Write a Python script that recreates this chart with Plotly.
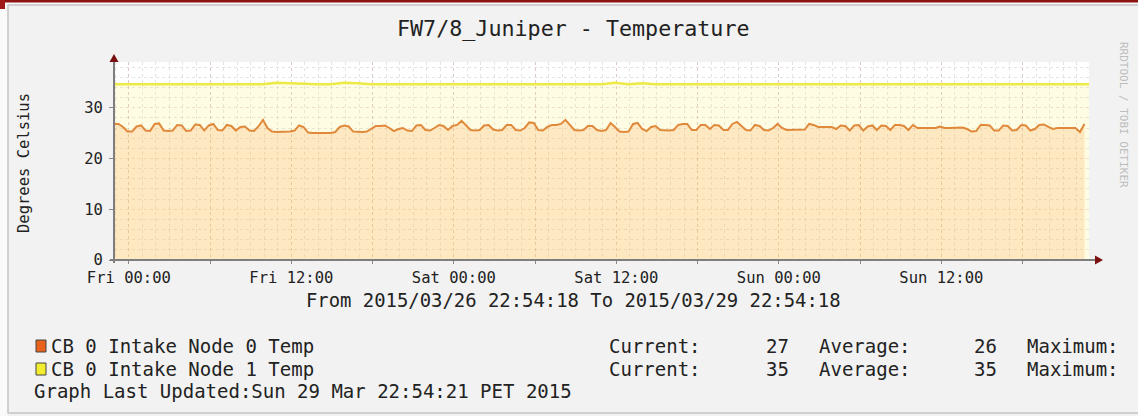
import datetime
import plotly.graph_objects as go

title = "FW7/8_Juniper - Temperature"
start = datetime.datetime(2015, 3, 26, 22, 54, 18)
end = datetime.datetime(2015, 3, 29, 22, 54, 18)
last_update = "Graph Last Updated:Sun 29 Mar 22:54:21 PET 2015"

# CB 0 Intake Node 0 Temp, one sample every 20 minutes
node0_temp = [
    26.8, 26.8, 26.2, 25.3, 25.3, 26.3, 26.5, 25.5, 25.4, 26.8,
    26.9, 25.5, 25.4, 25.5, 26.6, 26.5, 25.4, 25.5, 26.7, 26.6,
    25.5, 26.5, 26.8, 25.6, 25.5, 26.6, 26.4, 25.5, 26.2, 26.3,
    25.5, 25.4, 26.3, 27.6, 26.0, 25.3, 25.2, 25.2, 25.2, 25.3,
    25.5, 26.5, 26.2, 25.1, 25.0, 25.0, 25.0, 25.0, 25.0, 25.2,
    26.2, 26.5, 26.3, 25.3, 25.2, 25.2, 25.3, 25.8, 26.4, 26.4,
    26.5, 26.0, 25.4, 25.8, 26.0, 25.5, 25.4, 26.5, 26.6, 25.6,
    25.5, 26.0, 26.6, 26.4, 25.6, 26.4, 26.6, 27.4, 26.5, 25.6,
    25.5, 25.6, 26.5, 26.6, 25.7, 25.5, 25.6, 26.6, 26.6, 25.6,
    25.5, 26.0, 27.1, 27.0, 25.6, 25.5, 26.2, 26.6, 26.6, 26.8,
    27.6, 26.6, 25.6, 25.5, 25.6, 26.4, 26.4, 25.6, 25.4, 25.6,
    27.0, 26.2, 25.3, 25.2, 25.3, 26.8, 27.0, 25.8, 25.4, 26.2,
    26.4, 25.6, 25.5, 25.5, 25.6, 26.6, 26.8, 26.8, 25.6, 25.6,
    26.6, 26.6, 25.8, 26.6, 26.5, 25.6, 25.6, 26.8, 27.2, 26.4,
    25.6, 25.5, 26.6, 26.4, 25.6, 25.5, 26.0, 26.8, 26.0, 25.6,
    25.6, 25.6, 25.6, 25.7, 26.8, 26.6, 26.2, 26.2, 26.1, 26.2,
    25.8, 26.5, 26.4, 25.5, 26.5, 26.6, 25.5, 26.3, 26.5, 25.6,
    26.5, 26.4, 25.6, 26.6, 26.6, 26.4, 25.6, 26.6, 26.0, 26.0,
    26.0, 26.0, 26.0, 26.3, 26.0, 26.0, 26.0, 26.0, 26.1, 25.8,
    25.3, 25.4, 26.6, 26.6, 26.5, 25.5, 25.5, 26.5, 26.4, 25.5,
    25.6, 26.6, 26.5, 25.5, 25.8, 26.6, 26.7, 26.2, 25.8, 26.0,
    26.0, 26.0, 26.0, 26.0, 25.2, 26.8,
]
# CB 0 Intake Node 1 Temp, one sample per hour
node1_temp = [
    34.6, 34.6, 34.6, 34.6, 34.6, 34.6, 34.6, 34.6, 34.6, 34.6,
    34.6, 34.6, 34.9, 34.8, 34.6, 34.6, 34.6, 34.9, 34.8, 34.6,
    34.6, 34.6, 34.6, 34.6, 34.6, 34.6, 34.7, 34.6, 34.6, 34.6,
    34.6, 34.6, 34.6, 34.6, 34.6, 34.6, 34.6, 34.9, 34.6, 34.8,
    34.6, 34.6, 34.6, 34.6, 34.6, 34.6, 34.6, 34.6, 34.6, 34.6,
    34.6, 34.6, 34.6, 34.6, 34.6, 34.6, 34.6, 34.6, 34.6, 34.6,
    34.6, 34.6, 34.6, 34.6, 34.6, 34.6, 34.6, 34.6, 34.6, 34.6,
    34.6, 34.6, 34.6,
]
node0_times = [start + datetime.timedelta(minutes=20 * i) for i in range(len(node0_temp))]
node1_times = [start + datetime.timedelta(hours=i) for i in range(len(node1_temp))]

series_names = ["CB 0 Intake Node 0 Temp", "CB 0 Intake Node 1 Temp"]
current = [27, 35]
average = [26, 35]
swatch_colors = ["#E8621E", "#F2EE2E"]

tick_times = [datetime.datetime(2015, 3, 27) + datetime.timedelta(hours=6 * k) for k in range(12)]
tick_labels = ["Fri 00:00", "", "Fri 12:00", "", "Sat 00:00", "", "Sat 12:00", "",
               "Sun 00:00", "", "Sun 12:00", ""]

MONO = "DejaVu Sans Mono"
W, H = 1138, 416
L, R, T, B = 114, 49, 62, 156
PW, PH = W - L - R, H - T - B
LEG = 19.0


# pixel -> paper helpers for the rrdtool style decorations
def xp(px):
    return (px - L) / PW


def yp(py):
    return (H - B - py) / PH


fig = go.Figure()
fig.add_trace(go.Scatter(
    x=node1_times, y=node1_temp, mode="lines",
    line=dict(color="#EDEA45", width=2.5),
    fill="tozeroy", fillcolor="rgba(255,240,120,0.2)",
    hoverinfo="skip",
))
fig.add_trace(go.Scatter(
    x=node0_times, y=node0_temp, mode="lines",
    line=dict(color="#E0893A", width=2),
    fill="tozeroy", fillcolor="rgba(250,170,90,0.25)",
    hoverinfo="skip",
))

ann = []
ann.append(dict(x=xp(573), y=yp(28), text=title, font=dict(size=21.7)))
ann.append(dict(x=xp(24), y=yp(163), text="Degrees Celsius", textangle=-90,
                font=dict(size=15.5)))
ann.append(dict(x=xp(573), y=yp(300), text="From %s To %s" % (
    start.strftime("%Y/%m/%d %H:%M:%S"), end.strftime("%Y/%m/%d %H:%M:%S")),
    font=dict(size=18.9)))
ann.append(dict(x=xp(1124), y=yp(115), text="RRDTOOL / TOBI OETIKER", textangle=90,
                font=dict(size=11, color="#BDBDBD")))

shapes = []
rows_y = [346, 369]
for k in range(2):
    ry = rows_y[k]
    shapes.append(dict(type="rect", xref="paper", yref="paper",
                       x0=xp(36), x1=xp(46), y0=yp(ry - 6), y1=yp(ry + 6),
                       fillcolor=swatch_colors[k], line=dict(color="#444", width=1)))
    ann.append(dict(x=xp(49), y=yp(ry), text=series_names[k], xanchor="left", font=dict(size=LEG)))
    ann.append(dict(x=xp(607), y=yp(ry), text="Current:", xanchor="left", font=dict(size=LEG)))
    ann.append(dict(x=xp(791), y=yp(ry), text=str(current[k]), xanchor="right", font=dict(size=LEG)))
    ann.append(dict(x=xp(817), y=yp(ry), text="Average:", xanchor="left", font=dict(size=LEG)))
    ann.append(dict(x=xp(999), y=yp(ry), text=str(average[k]), xanchor="right", font=dict(size=LEG)))
    ann.append(dict(x=xp(1025), y=yp(ry), text="Maximum:", xanchor="left", font=dict(size=LEG)))
ann.append(dict(x=xp(32), y=yp(391), text=last_update, xanchor="left", font=dict(size=LEG)))

for a in ann:
    a.setdefault("xanchor", "center")
    a.update(xref="paper", yref="paper", showarrow=False, yanchor="middle")
    a["font"].setdefault("color", "#222")

# frame, page strip and axis arrows
shapes += [
    dict(type="rect", xref="paper", yref="paper", x0=xp(0), x1=xp(8), y0=yp(0), y1=yp(416),
         fillcolor="#FAFAFA", line=dict(width=0)),
    dict(type="rect", xref="paper", yref="paper", x0=xp(0), x1=xp(1138), y0=yp(0), y1=yp(5),
         fillcolor="#FAFAFA", line=dict(width=0)),
    dict(type="rect", xref="paper", yref="paper", x0=xp(8), x1=xp(1145), y0=yp(5), y1=yp(413),
         line=dict(color="#C4C4C4", width=1.5)),
    dict(type="rect", xref="paper", yref="paper", x0=xp(0), x1=xp(1138), y0=yp(0), y1=yp(2.5),
         fillcolor="#8E1414", line=dict(width=0)),
    dict(type="rect", xref="paper", yref="paper", x0=xp(0), x1=xp(5), y0=yp(0), y1=yp(9),
         fillcolor="#A01818", line=dict(width=0)),
    dict(type="line", xref="paper", yref="paper", x0=xp(110), x1=xp(1097), y0=yp(260), y1=yp(260),
         line=dict(color="#7E7E7E", width=2)),
    dict(type="line", xref="paper", yref="paper", x0=xp(114), x1=xp(114), y0=yp(263), y1=yp(59),
         line=dict(color="#7E7E7E", width=2)),
    dict(type="path", xref="paper", yref="paper",
         path="M %f %f L %f %f L %f %f Z" % (xp(1095), yp(255.5), xp(1103), yp(260), xp(1095), yp(264.5)),
         fillcolor="#7A1010", line=dict(width=0)),
    dict(type="path", xref="paper", yref="paper",
         path="M %f %f L %f %f L %f %f Z" % (xp(109.5), yp(62), xp(114), yp(54), xp(118.5), yp(62)),
         fillcolor="#7A1010", line=dict(width=0)),
]

fig.update_layout(
    width=W, height=H,
    margin=dict(l=L, r=R, t=T, b=B, pad=0),
    paper_bgcolor="#F2F2F2",
    plot_bgcolor="#FFFFFF",
    showlegend=False,
    font=dict(family=MONO, color="#222"),
    annotations=ann,
    shapes=shapes,
)
fig.update_xaxes(
    type="date", range=[start, end],
    tickvals=tick_times, ticktext=tick_labels,
    ticks="outside", ticklen=3, tickcolor="#888",
    tickfont=dict(size=15.5, family=MONO, color="#222"),
    showgrid=True, gridcolor="rgba(205,150,150,0.35)", griddash="dot", gridwidth=1,
    minor=dict(dtick=3600000, tick0="2015-03-27 00:00", showgrid=True,
               gridcolor="rgba(170,170,170,0.32)", griddash="dot", gridwidth=1),
    zeroline=False, showline=False,
)
fig.update_yaxes(
    range=[0, 39], dtick=10, tick0=0,
    ticks="outside", ticklen=4, tickcolor="#888", ticklabelstandoff=3,
    tickfont=dict(size=15.5, family=MONO, color="#222"),
    showgrid=True, gridcolor="rgba(205,150,150,0.35)", griddash="dot", gridwidth=1,
    minor=dict(dtick=2, showgrid=True, gridcolor="rgba(170,170,170,0.32)",
               griddash="dot", gridwidth=1),
    zeroline=False, showline=False,
)

fig.write_html("out.html", config={"displayModeBar": False},
               post_script="document.body.style.margin='0';")
